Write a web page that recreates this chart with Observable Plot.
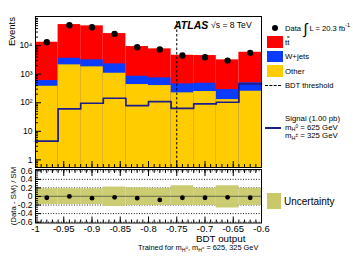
<!DOCTYPE html>
<html><head><meta charset="utf-8">
<script src="https://cdn.jsdelivr.net/npm/d3@7"></script>
<script src="https://cdn.jsdelivr.net/npm/@observablehq/plot@0.6"></script>
<style>
body{margin:0;background:#fff;font-family:"Liberation Sans",Arial,Helvetica,sans-serif;color:#000;}
#wrap{position:relative;width:353px;height:280px;overflow:hidden;background:#fff;}
.abs{position:absolute;white-space:nowrap;}
.t{position:absolute;white-space:nowrap;transform:translateY(-50%);}
.sw{position:absolute;}
</style></head><body><div id="wrap"></div>
<script>
// ---- data ----
const binEdges = [-1, -0.96, -0.92, -0.88, -0.84, -0.8, -0.76, -0.72, -0.68, -0.64, -0.6];
const ttbar   = [12550, 51180, 46220, 24200, 8450, 6985, 4150, 4020, 2890, 5370];
const wjets   = [222, 1495, 1370, 1220, 414, 345, 237, 235, 161, 245];
const other   = [378, 2125, 1810, 1080, 434, 400, 222, 247, 129, 253];
const dataEv  = [13200, 51700, 44000, 25900, 8800, 7300, 4500, 3920, 3000, 5600];
const signal  = [4.5, 61, 96, 144, 80, 110, 64, 91, 104, 459];
const ratio   = [-0.03, 0.0, -0.04, -0.02, -0.04, -0.08, -0.03, -0.03, -0.02, -0.03];
const uncUp   = [0.18, 0.18, 0.18, 0.22, 0.20, 0.19, 0.25, 0.19, 0.25, 0.19];
const uncDown = [-0.19, -0.19, -0.19, -0.23, -0.21, -0.21, -0.21, -0.21, -0.27, -0.21];
const xTicks  = [-1, -0.95, -0.9, -0.85, -0.8, -0.75, -0.7, -0.65, -0.6];
const yTicksUpper = [1, 10, 100, 1000, 10000];
const yTicksRatio = [-0.6, -0.4, -0.2, 0, 0.2, 0.4, 0.6];
const gridRatio = [-0.6, -0.4, -0.2, 0.2, 0.4, 0.6];
const bdtThreshold = -0.75;

const RED = "#ff0000", BLUE = "#0a3cff", YEL = "#ffcc00", NAVY = "#1c1c8c", UNC = "#c9c96a";
const FONT = "'Liberation Sans', Arial, Helvetica, sans-serif";
const yDom = [0.54, 1.05e5];

const rows = ttbar.map((t, i) => ({
  x1: binEdges[i], x2: binEdges[i + 1], xc: (binEdges[i] + binEdges[i + 1]) / 2,
  other: other[i], wTop: other[i] + wjets[i], total: other[i] + wjets[i] + t,
  data: dataEv[i], ratio: ratio[i], up: uncUp[i], down: uncDown[i]
}));
const stepPts = binEdges.map((e, i) => ({x: e, y: signal[Math.min(i, signal.length - 1)]}));

const sup = {2: "\u00b2", 3: "\u00b3", 4: "\u2074", 5: "\u2075"};
const fmtLog = d => d < 100 ? String(d) : "10" + sup[Math.round(Math.log10(d))];
const minorLog = [];
for (let e = -1; e <= 4; e++) for (let m = 2; m <= 9; m++) {
  const v = m * Math.pow(10, e);
  if (v > yDom[0] && v < yDom[1]) minorLog.push(v);
}
const xMinor = d3.range(-100, -59).map(v => v / 100);
const rMinor = d3.range(-12, 13).map(v => v / 20);
const fmtX = d => String(d);
const fmtR = d => d === 0 ? "0" : String(d);

const wrap = document.getElementById("wrap");

// ---- upper panel ----
const upper = Plot.plot({
  width: 265, height: 168,
  marginTop: 16, marginBottom: 1, marginLeft: 35, marginRight: 4,
  style: {fontFamily: FONT, background: "transparent", overflow: "visible"},
  x: {domain: [-1, -0.6]},
  y: {type: "log", domain: yDom, label: null},
  marks: [
    Plot.rect(rows, {x1: "x1", x2: "x2", y1: () => yDom[0], y2: "total", fill: RED}),
    Plot.rect(rows, {x1: "x1", x2: "x2", y1: () => yDom[0], y2: "wTop", fill: BLUE}),
    Plot.rect(rows, {x1: "x1", x2: "x2", y1: () => yDom[0], y2: "other", fill: YEL}),
    Plot.line(stepPts, {x: "x", y: "y", curve: "step-after", stroke: NAVY, strokeWidth: 1.7}),
    Plot.ruleX([bdtThreshold], {y1: () => yDom[0], y2: () => 7e4, stroke: "#000", strokeWidth: 1, strokeDasharray: "2.5,2"}),
    Plot.dot(rows, {x: "xc", y: "data", r: 3.2, fill: "#000", stroke: null}),
    Plot.axisY(yTicksUpper, {anchor: "left", tickSize: -6, tickFormat: () => "", label: null}),
    Plot.axisY(minorLog, {anchor: "left", tickSize: -3, tickFormat: () => "", label: null}),
    Plot.axisY(yTicksUpper, {anchor: "left", tickSize: 0, tickPadding: 3, tickFormat: fmtLog, label: null, fontSize: 8.5}),
    Plot.axisX(xTicks, {anchor: "bottom", tickSize: -6, tickFormat: () => "", label: null}),
    Plot.axisX(xMinor, {anchor: "bottom", tickSize: -3, tickFormat: () => "", label: null}),
    Plot.frame({stroke: "#000", strokeWidth: 1})
  ]
});
upper.style.position = "absolute"; upper.style.left = "0px"; upper.style.top = "0px";
wrap.appendChild(upper);

// ---- ratio panel ----
const lower = Plot.plot({
  width: 265, height: 80,
  marginTop: 4, marginBottom: 22.5, marginLeft: 35, marginRight: 4,
  style: {fontFamily: FONT, background: "transparent", overflow: "visible"},
  x: {domain: [-1, -0.6]},
  y: {domain: [-0.62, 0.63], label: null},
  marks: [
    Plot.ruleY(gridRatio, {stroke: "#000", strokeWidth: 0.9, strokeDasharray: "1,1.6"}),
    Plot.rect(rows, {x1: "x1", x2: "x2", y1: "down", y2: "up", fill: UNC, fillOpacity: 0.95}),
    Plot.ruleY([0], {stroke: "#7d7d52", strokeWidth: 1.3}),
    Plot.dot(rows, {x: "xc", y: "ratio", r: 2.4, fill: "#000", stroke: null}),
    Plot.axisY(yTicksRatio, {anchor: "left", tickSize: -6, tickFormat: () => "", label: null}),
    Plot.axisY(rMinor, {anchor: "left", tickSize: -3, tickFormat: () => "", label: null}),
    Plot.axisY(yTicksRatio, {anchor: "left", tickSize: 0, tickPadding: 3, tickFormat: fmtR, label: null, fontSize: 8.5}),
    Plot.axisX(xTicks, {anchor: "top", tickSize: -6, tickFormat: () => "", label: null}),
    Plot.axisX(xMinor, {anchor: "top", tickSize: -3, tickFormat: () => "", label: null}),
    Plot.axisX(xTicks, {anchor: "bottom", tickSize: -6, tickFormat: () => "", label: null}),
    Plot.axisX(xMinor, {anchor: "bottom", tickSize: -3, tickFormat: () => "", label: null}),
    Plot.axisX(xTicks, {anchor: "bottom", tickSize: 0, tickPadding: 2, tickFormat: fmtX, label: null, fontSize: 9.5}),
    Plot.frame({stroke: "#000", strokeWidth: 1})
  ]
});
lower.style.position = "absolute"; lower.style.left = "0px"; lower.style.top = "165px";
wrap.appendChild(lower);

// ---- texts and legend ----
function add(html, css, cls = "t") {
  const d = document.createElement("div");
  d.className = cls; d.innerHTML = html; d.style.cssText += css; wrap.appendChild(d); return d;
}
const mH0 = 'm<span style="font-size:0.7em;vertical-align:-0.35em">H<span style="font-size:0.85em;vertical-align:0.6em">0</span></span>';
const mHp = 'm<span style="font-size:0.7em;vertical-align:-0.35em">H<span style="font-size:0.85em;vertical-align:0.6em">\u00b1</span></span>';

// axis titles
add("Events", "left:7px;top:97px;width:80px;height:10px;line-height:10px;font-size:9.5px;text-align:right;transform-origin:0 0;transform:rotate(-90deg);", "abs");
add("(Data - SM) / SM", "left:9px;top:236px;width:80px;height:9px;line-height:9px;font-size:7.8px;text-align:center;transform-origin:0 0;transform:rotate(-90deg);", "abs");
add("BDT output", "left:196px;top:238px;font-size:9.8px;");
add("Trained for " + mH0 + ", " + mHp + " = 625, 325 GeV", "left:138px;top:248px;font-size:7.4px;");

// ATLAS label
add('<b><i>ATLAS</i></b>', "left:174px;top:25px;font-size:10.5px;");
add('\u221As = 8 TeV', "left:211px;top:25px;font-size:8.6px;");

// legend
add("", "left:271.5px;top:24.5px;width:6.5px;height:6.5px;border-radius:50%;background:#000;", "sw");
add('Data <span style="font-size:15px;vertical-align:-3px;font-weight:300">\u222b</span> L = 20.3 fb<sup style="font-size:0.7em;vertical-align:0.6em;line-height:0">-1</sup>', "left:285px;top:27.5px;font-size:7.6px;");
add("", "left:267px;top:35.7px;width:15.5px;height:12px;background:" + RED + ";", "sw");
add('t<span style="text-decoration:overline">t</span>', "left:285px;top:41.5px;font-size:8px;");
add("", "left:267px;top:50.5px;width:15.5px;height:11.5px;background:" + BLUE + ";", "sw");
add("W+jets", "left:285px;top:56px;font-size:7.8px;");
add("", "left:267px;top:65px;width:15.5px;height:12px;background:" + YEL + ";", "sw");
add("Other", "left:285px;top:71px;font-size:7.8px;");
add("", "left:265px;top:84.5px;width:16px;height:0;border-top:1px dashed #000;", "sw");
add("BDT threshold", "left:285px;top:85px;font-size:7.6px;");
add("Signal (1.00 pb)", "left:285px;top:118px;font-size:7.8px;");
add("", "left:265px;top:126.8px;width:16px;height:1.8px;background:" + NAVY + ";", "sw");
add(mH0 + " = 625 GeV", "left:285px;top:127.5px;font-size:7.8px;");
add(mHp + " = 325 GeV", "left:285px;top:136px;font-size:7.8px;");
add("", "left:267px;top:193px;width:14px;height:16px;background:" + UNC + ";", "sw");
add("Uncertainty", "left:284px;top:200.5px;font-size:10px;");
</script>
</body></html>
